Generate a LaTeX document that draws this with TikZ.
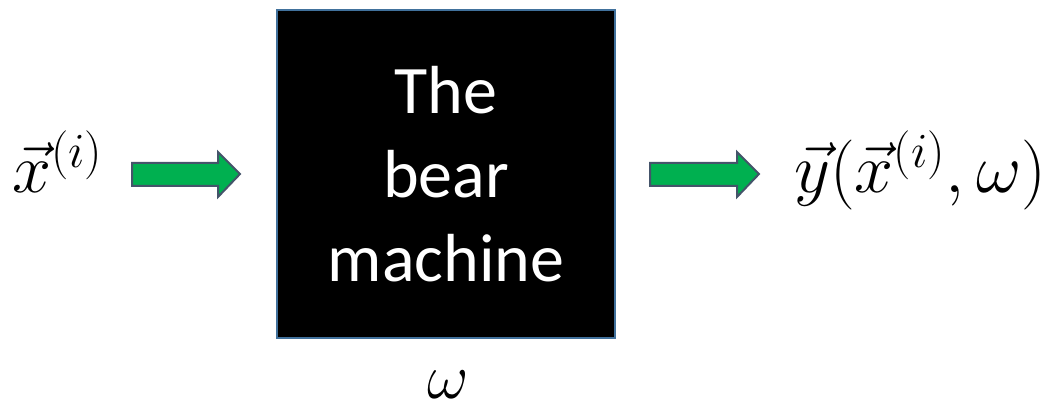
\RequirePackage{fix-cm}
\documentclass[tikz,border=0pt]{standalone}
\usepackage{amsmath}
\usepackage{fontspec}
\newfontfamily\calibri{Carlito}
\usetikzlibrary{positioning}
\definecolor{arrowgreen}{HTML}{00B050}
\definecolor{arrowedge}{HTML}{44546A}
\definecolor{boxedge}{HTML}{41719C}
\tikzset{
  bigarrow/.style={draw=arrowedge, fill=arrowgreen, line width=2pt, line join=miter},
  mathlbl/.style={anchor=base, font=\fontsize{70}{70}\selectfont, inner sep=0pt}
}
\begin{document}
\begin{tikzpicture}[x=1pt,y=-1pt]
\useasboundingbox (0,0) rectangle (1045,406);
\node[draw=boxedge, fill=black, line width=2pt, minimum width=338pt, minimum height=328pt,
  text=white, align=center, font=\calibri\fontsize{68}{84}\selectfont] (box) at (446,174)
  {The\\bear\\machine};
% block arrows
\draw[bigarrow] (132,163) -- (218,163) -- (218,152) -- (240,174) -- (218,197)
  -- (218,186) -- (132,186) -- cycle;
\draw[bigarrow] (650,163) -- (737,163) -- (737,152) -- (759,174) -- (737,197)
  -- (737,186) -- (650,186) -- cycle;
\node[mathlbl, anchor=base west] (xin) at (12,193) {$\vec{x}^{(i)}$};
\node[mathlbl, anchor=base west] (yout) at (794,193) {$\vec{y}(\vec{x}^{(i)},\omega)$};
\node[mathlbl, font=\fontsize{64}{64}\selectfont] (w) at (448,398) {$\omega$};
\end{tikzpicture}
\end{document}
